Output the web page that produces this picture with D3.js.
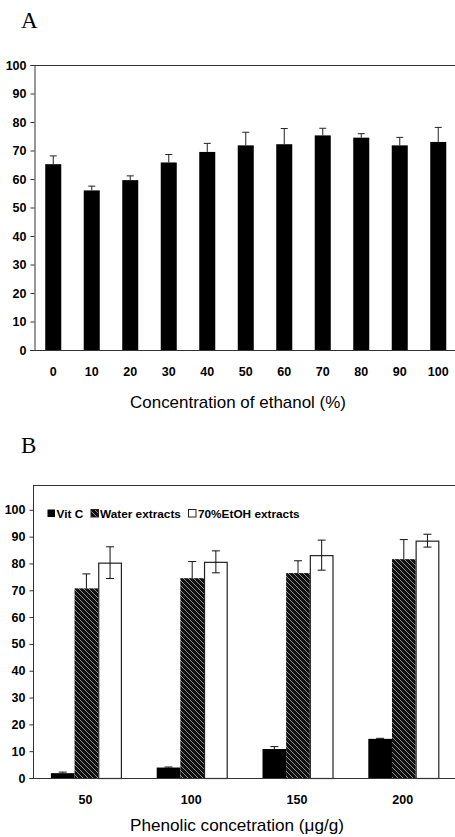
<!DOCTYPE html>
<html>
<head>
<meta charset="utf-8">
<script src="https://cdnjs.cloudflare.com/ajax/libs/d3/7.8.5/d3.min.js"></script>
<style>
  html, body { margin: 0; padding: 0; background: #fff; }
  svg { display: block; }
</style>
</head>
<body>
<svg id="chart" width="455" height="837"></svg>
<script>
// ---------- Panel A data ----------
const aCategories = ["0", "10", "20", "30", "40", "50", "60", "70", "80", "90", "100"];
const aValues = [65.2, 56.0, 59.6, 65.8, 69.5, 71.8, 72.2, 75.3, 74.5, 71.8, 73.0];
const aErrors = [2.9, 1.5, 1.5, 2.8, 3.0, 4.6, 5.5, 2.5, 1.4, 2.8, 5.1];
const aYTicks = [0, 10, 20, 30, 40, 50, 60, 70, 80, 90, 100];
const aXTitle = "Concentration of ethanol (%)";

// ---------- Panel B data ----------
const bGroups = ["50", "100", "150", "200"];
const bSeries = ["Vit C", "Water extracts", "70%EtOH extracts"];
const bVitC = [1.8, 3.9, 10.8, 14.6];
const bVitCErr = [0.4, 0.2, 0.9, 0.2];
const bWater = [70.7, 74.5, 76.4, 81.6];
const bWaterErr = [5.4, 6.2, 4.6, 7.3];
const bEtOH = [80.3, 80.6, 83.1, 88.5];
const bEtOHErr = [5.9, 4.1, 5.6, 2.4];
const bYTicks = [0, 10, 20, 30, 40, 50, 60, 70, 80, 90, 100];
const bXTitle = "Phenolic concetration (\u03bcg/g)";

const svg = d3.select("#chart");
const FONT = "'Liberation Sans', Arial, sans-serif";
const AXIS_COLOR = "#333";

// hatch pattern
const defs = svg.append("defs");
const pat = defs.append("pattern")
  .attr("id", "hatch").attr("patternUnits", "userSpaceOnUse")
  .attr("width", 5).attr("height", 5);
pat.append("rect").attr("width", 5).attr("height", 5).attr("fill", "#111");
pat.append("path").attr("d", "M-1,-1 L6,6 M-1,4 L1,6 M4,-1 L6,1")
  .attr("stroke", "#8c8c8c").attr("stroke-width", 1);

// ================= PANEL A =================
const aLeft = 34, aRight = 457.5, aTop = 65, aBottom = 350;
const ax = d3.scaleBand().domain(aCategories).range([aLeft, aRight])
  .paddingInner(0.584).paddingOuter(0.292);
const ay = d3.scaleLinear().domain([0, 100]).range([aBottom, aTop]);

svg.append("text").attr("x", 21).attr("y", 28)
  .attr("font-family", "'Liberation Serif', 'Times New Roman', serif")
  .attr("font-size", 23).text("A");

const gA = svg.append("g");
// bars
gA.selectAll("rect.bar").data(aCategories).join("rect")
  .attr("class", "bar")
  .attr("x", d => ax(d)).attr("width", ax.bandwidth())
  .attr("y", (d, i) => ay(aValues[i]))
  .attr("height", (d, i) => ay(0) - ay(aValues[i]))
  .attr("fill", "#000");
// error bars (upper only)
const aErrG = gA.selectAll("g.err").data(aCategories).join("g").attr("class", "err");
aErrG.append("line")
  .attr("x1", d => ax(d) + ax.bandwidth() / 2).attr("x2", d => ax(d) + ax.bandwidth() / 2)
  .attr("y1", (d, i) => ay(aValues[i])).attr("y2", (d, i) => ay(aValues[i] + aErrors[i]))
  .attr("stroke", "#222").attr("stroke-width", 1);
aErrG.append("line")
  .attr("x1", d => ax(d) + ax.bandwidth() / 2 - 3.5).attr("x2", d => ax(d) + ax.bandwidth() / 2 + 3.5)
  .attr("y1", (d, i) => ay(aValues[i] + aErrors[i])).attr("y2", (d, i) => ay(aValues[i] + aErrors[i]))
  .attr("stroke", "#222").attr("stroke-width", 1);

// frame top line
gA.append("line").attr("x1", aLeft).attr("x2", 455).attr("y1", aTop + 0.5).attr("y2", aTop + 0.5)
  .attr("stroke", AXIS_COLOR);
// x axis line
gA.append("line").attr("x1", aLeft - 4).attr("x2", 455).attr("y1", aBottom + 0.5).attr("y2", aBottom + 0.5)
  .attr("stroke", AXIS_COLOR);
// y axis
const aYAxis = d3.axisLeft(ay).tickValues(aYTicks).tickSize(4).tickPadding(4).tickFormat(d3.format("d"));
const aYG = gA.append("g").attr("transform", `translate(${aLeft + 0.5},0)`).call(aYAxis);
aYG.select(".domain").attr("stroke", AXIS_COLOR);
aYG.selectAll(".tick line").attr("stroke", AXIS_COLOR);
aYG.selectAll(".tick text").attr("font-family", FONT).attr("font-size", 12.5)
  .attr("font-weight", "bold").attr("fill", "#000");
// x labels
gA.selectAll("text.xl").data(aCategories).join("text").attr("class", "xl")
  .attr("x", d => ax(d) + ax.bandwidth() / 2).attr("y", 376)
  .attr("text-anchor", "middle").attr("font-family", FONT).attr("font-size", 12.5)
  .attr("font-weight", "bold").text(d => d);
// title
svg.append("text").attr("x", 238).attr("y", 408).attr("text-anchor", "middle")
  .attr("font-family", FONT).attr("font-size", 17)
  .attr("textLength", 216).attr("lengthAdjust", "spacingAndGlyphs")
  .text(aXTitle);

// ================= PANEL B =================
const bLeft = 33.5, bRight = 456.7, bTop = 485, bBottom = 778;
const bx0 = d3.scaleBand().domain(bGroups).range([bLeft, bRight])
  .paddingInner(0.329).paddingOuter(0.1645);
const bx1 = d3.scaleBand().domain(bSeries).range([0, bx0.bandwidth()]).padding(0);
const by = d3.scaleLinear().domain([0, 110]).range([bBottom, 483]);

svg.append("text").attr("x", 21).attr("y", 453)
  .attr("font-family", "'Liberation Serif', 'Times New Roman', serif")
  .attr("font-size", 23).text("B");

const seriesVals = [bVitC, bWater, bEtOH];
const seriesErrs = [bVitCErr, bWaterErr, bEtOHErr];
const seriesFill = ["#000", "url(#hatch)", "#fff"];
const seriesStroke = ["#000", "none", "#222"];

const barData = [];
bGroups.forEach((g, gi) => {
  bSeries.forEach((s, si) => {
    barData.push({ g, s, si, v: seriesVals[si][gi], e: seriesErrs[si][gi] });
  });
});

const gB = svg.append("g");
gB.selectAll("rect.bar").data(barData).join("rect").attr("class", "bar")
  .attr("x", d => bx0(d.g) + bx1(d.s) + (d.si === 2 ? 0.5 : 0))
  .attr("width", d => bx1.bandwidth() - (d.si === 2 ? 1 : 0))
  .attr("y", d => by(d.v) + (d.si === 2 ? 0.5 : 0))
  .attr("height", d => by(0) - by(d.v))
  .attr("fill", d => seriesFill[d.si])
  .attr("stroke", d => seriesStroke[d.si])
  .attr("stroke-width", d => d.si === 2 ? 1.2 : 0);

// error bars: full for white bars, upper only for dark bars
const bErrG = gB.selectAll("g.err").data(barData).join("g").attr("class", "err");
const cx = d => bx0(d.g) + bx1(d.s) + bx1.bandwidth() / 2;
const lowVal = d => d.si === 2 ? d.v - d.e : d.v;
bErrG.append("line")
  .attr("x1", cx).attr("x2", cx)
  .attr("y1", d => by(lowVal(d))).attr("y2", d => by(d.v + d.e))
  .attr("stroke", "#111").attr("stroke-width", 1);
bErrG.append("line")
  .attr("x1", d => cx(d) - 4).attr("x2", d => cx(d) + 4)
  .attr("y1", d => by(d.v + d.e)).attr("y2", d => by(d.v + d.e))
  .attr("stroke", "#111").attr("stroke-width", 1);
bErrG.filter(d => d.si === 2).append("line")
  .attr("x1", d => cx(d) - 4).attr("x2", d => cx(d) + 4)
  .attr("y1", d => by(d.v - d.e)).attr("y2", d => by(d.v - d.e))
  .attr("stroke", "#111").attr("stroke-width", 1);

// frame top line
gB.append("line").attr("x1", bLeft).attr("x2", 455).attr("y1", bTop + 0.5).attr("y2", bTop + 0.5)
  .attr("stroke", AXIS_COLOR);
// x axis line
gB.append("line").attr("x1", bLeft - 4).attr("x2", 455).attr("y1", bBottom + 0.5).attr("y2", bBottom + 0.5)
  .attr("stroke", AXIS_COLOR);
// y axis
const bYAxis = d3.axisLeft(by).tickValues(bYTicks).tickSize(4).tickPadding(4).tickFormat(d3.format("d"));
const bYG = gB.append("g").attr("transform", `translate(${bLeft},0)`).call(bYAxis);
bYG.select(".domain").remove();
bYG.selectAll(".tick line").attr("stroke", AXIS_COLOR);
bYG.selectAll(".tick text").attr("font-family", FONT).attr("font-size", 12.5)
  .attr("font-weight", "bold").attr("fill", "#000");
gB.append("line").attr("x1", bLeft).attr("x2", bLeft).attr("y1", bTop).attr("y2", bBottom + 1)
  .attr("stroke", AXIS_COLOR);

// x labels
gB.selectAll("text.xl").data(bGroups).join("text").attr("class", "xl")
  .attr("x", d => bx0(d) + bx0.bandwidth() / 2 - 1).attr("y", 803.5)
  .attr("text-anchor", "middle").attr("font-family", FONT).attr("font-size", 12.5)
  .attr("font-weight", "bold").text(d => d);

// title
svg.append("text").attr("x", 237).attr("y", 831).attr("text-anchor", "middle")
  .attr("font-family", FONT).attr("font-size", 17)
  .attr("textLength", 214).attr("lengthAdjust", "spacingAndGlyphs")
  .text(bXTitle);

// legend
const legendX = [47.5, 91, 188.5];
const legendTextX = [56.5, 100, 198];
const legendY = 509.5;
const lg = gB.append("g");
bSeries.forEach((s, i) => {
  lg.append("rect").attr("x", legendX[i]).attr("y", legendY).attr("width", 7.5).attr("height", 7.5)
    .attr("fill", seriesFill[i]).attr("stroke", i === 0 ? "none" : "#222").attr("stroke-width", 1);
  lg.append("text").attr("x", legendTextX[i]).attr("y", legendY + 8)
    .attr("font-family", FONT).attr("font-size", 11.8).attr("font-weight", "bold")
    .text(s);
});
</script>
</body>
</html>
